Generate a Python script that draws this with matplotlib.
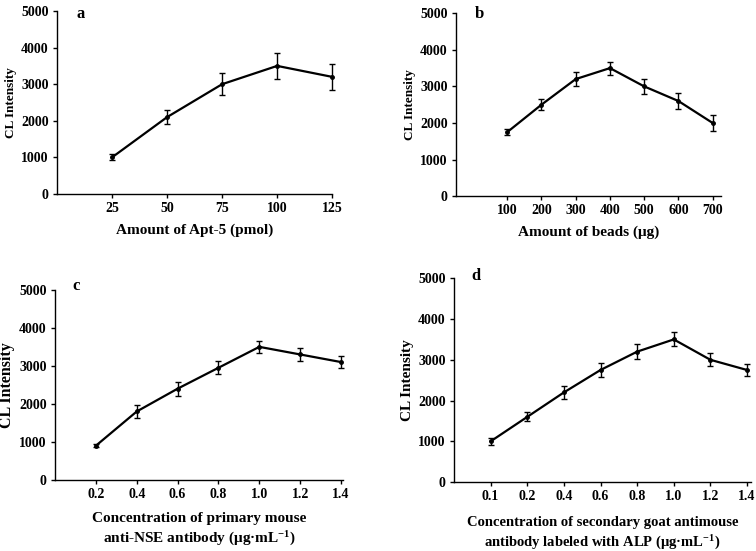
import numpy as np
import matplotlib
matplotlib.use("Agg")
import matplotlib.pyplot as plt

plt.rcParams["font.family"] = ["Liberation Serif", "DejaVu Serif"]
plt.rcParams["font.weight"] = "bold"
plt.rcParams["xtick.labelsize"] = 10
plt.rcParams["ytick.labelsize"] = 10
plt.rcParams["mathtext.fontset"] = "custom"
plt.rcParams["mathtext.rm"] = "Liberation Serif:bold"
plt.rcParams["mathtext.bf"] = "Liberation Serif:bold"
plt.rcParams["mathtext.default"] = "bf"

# panel a
apt = [25, 50, 75, 100, 125]
apt_cl = [1000, 2100, 3000, 3500, 3200]
apt_err = [80, 200, 300, 350, 350]

# panel b
beads = [100, 200, 300, 400, 500, 600, 700]
beads_cl = [1750, 2500, 3200, 3500, 3000, 2600, 2000]
beads_err = [80, 150, 200, 180, 200, 220, 220]

# panel c
prim = [0.2, 0.4, 0.6, 0.8, 1.0, 1.2, 1.4]
prim_cl = [900, 1800, 2400, 2950, 3500, 3300, 3100]
prim_err = [40, 180, 180, 170, 150, 170, 150]

# panel d (categorical x)
sec_lbl = ["0.1", "0.2", "0.4", "0.6", "0.8", "1.0", "1.2", "1.4"]
sec_cl = [1000, 1600, 2200, 2750, 3200, 3500, 3000, 2750]
sec_err = [80, 110, 160, 180, 180, 170, 160, 140]

fig = plt.figure(figsize=(7.56, 5.51), dpi=100)
axa = fig.add_axes([0.0754, 0.648, 0.364, 0.332])
axb = fig.add_axes([0.603, 0.644, 0.351, 0.332])
axc = fig.add_axes([0.0728, 0.129, 0.381, 0.345])
axd = fig.add_axes([0.6005, 0.125, 0.3925, 0.370])


def draw(ax, x, y, e):
    lines = ax.errorbar(x, y, yerr=e, color="k", lw=1.6, marker="o", ms=2.5,
                        elinewidth=1.0, capsize=2, capthick=1.0)
    for art in lines.lines[0:1] + tuple(lines.lines[1]) + tuple(lines.lines[2]):
        art.set_clip_on(False)
    ax.set_ylim(0, 5000)
    ax.set_yticks(range(0, 5001, 1000))
    for s in ["top", "right"]:
        ax.spines[s].set_visible(False)
    for s in ["left", "bottom"]:
        ax.spines[s].set_linewidth(1.0)
    ax.tick_params(direction="out", length=3, width=1.0, labelsize=10, pad=3)


draw(axa, apt, apt_cl, apt_err)
axa.set_xlim(0, 125)
axa.set_xticks(apt)
axa.set_xlabel("Amount of Apt-5 (pmol)", fontsize=11, fontweight="bold", labelpad=6)
axa.set_ylabel("CL Intensity", fontsize=9.5, fontweight="bold", labelpad=3)

draw(axb, beads, beads_cl, beads_err)
axb.set_xlim(-50, 725)
axb.set_xticks(beads)
axb.set_xlabel("Amount of beads (μg)", fontsize=11, fontweight="bold", labelpad=6)
axb.set_ylabel("CL Intensity", fontsize=9.5, fontweight="bold", labelpad=3)

draw(axc, prim, prim_cl, prim_err)
axc.set_xlim(0, 1.41)
axc.set_xticks(prim)
axc.set_xticklabels(["%.1f" % v for v in prim])
axc.set_xlabel("Concentration of primary mouse\nanti-NSE antibody (μg·mL$^{-1}$)",
               fontsize=11, fontweight="bold", labelpad=8, linespacing=1.35)
axc.set_ylabel("CL Intensity", fontsize=11.5, fontweight="bold", labelpad=3)

pos = np.arange(1, len(sec_lbl) + 1)
draw(axd, pos, sec_cl, sec_err)
axd.set_xlim(0, 8.1)
axd.set_xticks(pos)
axd.set_xticklabels(sec_lbl)
axd.set_xlabel("Concentration of secondary goat antimouse\nantibody labeled with ALP (μg·mL$^{-1}$)",
               fontsize=10.5, fontweight="bold", labelpad=9, linespacing=1.35)
axd.set_ylabel("CL Intensity", fontsize=11, fontweight="bold", labelpad=3)

for ax in [axa, axb, axc, axd]:
    for t in ax.get_xticklabels() + ax.get_yticklabels():
        t.set_fontweight("bold")
        t.set_fontsize(10)

fig.text(0.101, 0.990, "a", fontsize=12, fontweight="bold", va="top")
fig.text(0.628, 0.990, "b", fontsize=12, fontweight="bold", va="top")
fig.text(0.096, 0.495, "c", fontsize=12, fontweight="bold", va="top")
fig.text(0.624, 0.514, "d", fontsize=12, fontweight="bold", va="top")

fig.savefig("out.png", dpi=100)
